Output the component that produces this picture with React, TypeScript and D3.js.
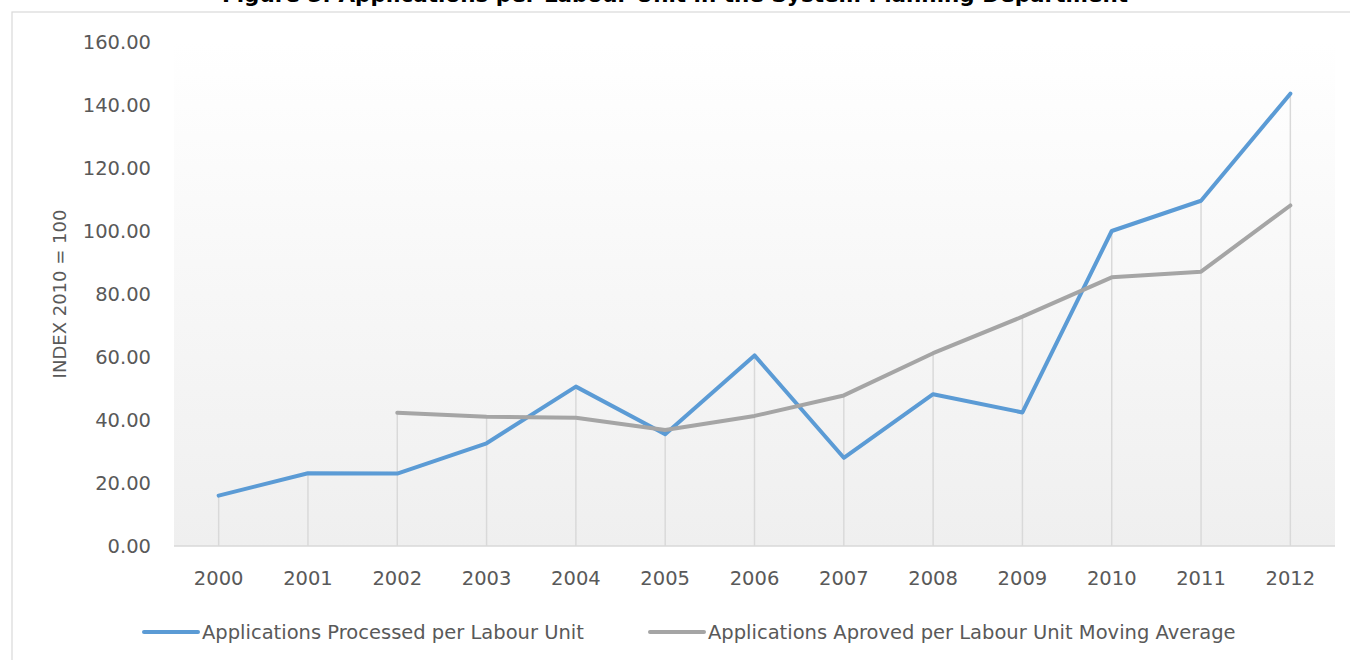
import React from "react";
import * as d3 from "d3";

const years = ["2000","2001","2002","2003","2004","2005","2006","2007","2008","2009","2010","2011","2012"];
const processed = [16.0, 23.1, 23.0, 32.6, 50.6, 35.5, 60.5, 28.0, 48.2, 42.4, 100.0, 109.6, 143.6];
const approvedMA: (number | null)[] = [null, null, 42.3, 41.0, 40.7, 36.8, 41.3, 47.8, 61.2, 72.8, 85.3, 87.1, 108.1];
const yTicks = [0, 20, 40, 60, 80, 100, 120, 140, 160];
const seriesNames = ["Applications Processed per Labour Unit", "Applications Aproved per Labour Unit Moving Average"];
const seriesColors = ["#5B9BD5", "#A5A5A5"];
const title = "Figure 5: Applications per Labour Unit in the System Planning Department";
const yTitle = "INDEX 2010 = 100";

export default function App() {
  const W = 1350, H = 660;
  const left = 174, right = 1335, top = 42, bottom = 546;
  const x = d3.scaleBand<string>().domain(years).range([left, right]).padding(0);
  const y = d3.scaleLinear().domain([0, 160]).range([bottom, top]);
  const cx = (i: number) => (x(years[i]) as number) + x.bandwidth() / 2;

  const line = d3.line<number | null>()
    .defined((d) => d !== null)
    .x((_, i) => cx(i))
    .y((d) => y(d as number));

  const font = "'DejaVu Sans', sans-serif";
  const txt = "#595959";

  return (
    <svg width={W} height={H} style={{ position: "absolute", left: 0, top: 0, background: "#fff" }} fontFamily={font}>
      <defs>
        <linearGradient id="bg" x1="0" y1="0" x2="0" y2="1">
          <stop offset="0%" stopColor="#ffffff" />
          <stop offset="100%" stopColor="#efefef" />
        </linearGradient>
      </defs>
      <rect x={12} y={12} width={1400} height={700} fill="#fff" stroke="#d9d9d9" strokeWidth={1.2} />
      <text x={675} y={2} textAnchor="middle" fontSize={21.5} fontWeight="bold" fill="#000">{title}</text>
      <rect x={left} y={top} width={right - left} height={bottom - top} fill="url(#bg)" />
      {years.map((yr, i) => {
        const vals = [processed[i], approvedMA[i]].filter((v) => v !== null) as number[];
        const mx = d3.max(vals) as number;
        return <line key={yr} x1={cx(i)} x2={cx(i)} y1={y(0)} y2={y(mx)} stroke="#d9d9d9" strokeWidth={1.5} />;
      })}
      <line x1={left} x2={right} y1={y(0)} y2={y(0)} stroke="#d9d9d9" strokeWidth={1.5} />
      {yTicks.map((t) => (
        <text key={t} x={151} y={y(t)} dy="0.35em" textAnchor="end" fontSize={19.5} fill={txt}>{d3.format(".2f")(t)}</text>
      ))}
      {years.map((yr, i) => (
        <text key={yr} x={cx(i)} y={578} dy="0.35em" textAnchor="middle" fontSize={19.5} fill={txt}>{yr}</text>
      ))}
      <text transform={`translate(60,294) rotate(-90)`} textAnchor="middle" dy="0.35em" fontSize={18} fill={txt}>{yTitle}</text>
      <path d={line(processed) || ""} fill="none" stroke={seriesColors[0]} strokeWidth={4} strokeLinejoin="round" strokeLinecap="round" />
      <path d={line(approvedMA) || ""} fill="none" stroke={seriesColors[1]} strokeWidth={4} strokeLinejoin="round" strokeLinecap="round" />
      {[{ x0: 144, tx: 202 }, { x0: 650, tx: 708 }].map((l, i) => (
        <g key={i}>
          <line x1={l.x0} x2={l.x0 + 54} y1={632} y2={632} stroke={seriesColors[i]} strokeWidth={4} strokeLinecap="round" />
          <text x={l.tx} y={632} dy="0.35em" fontSize={19.5} fill={txt}>{seriesNames[i]}</text>
        </g>
      ))}
    </svg>
  );
}
